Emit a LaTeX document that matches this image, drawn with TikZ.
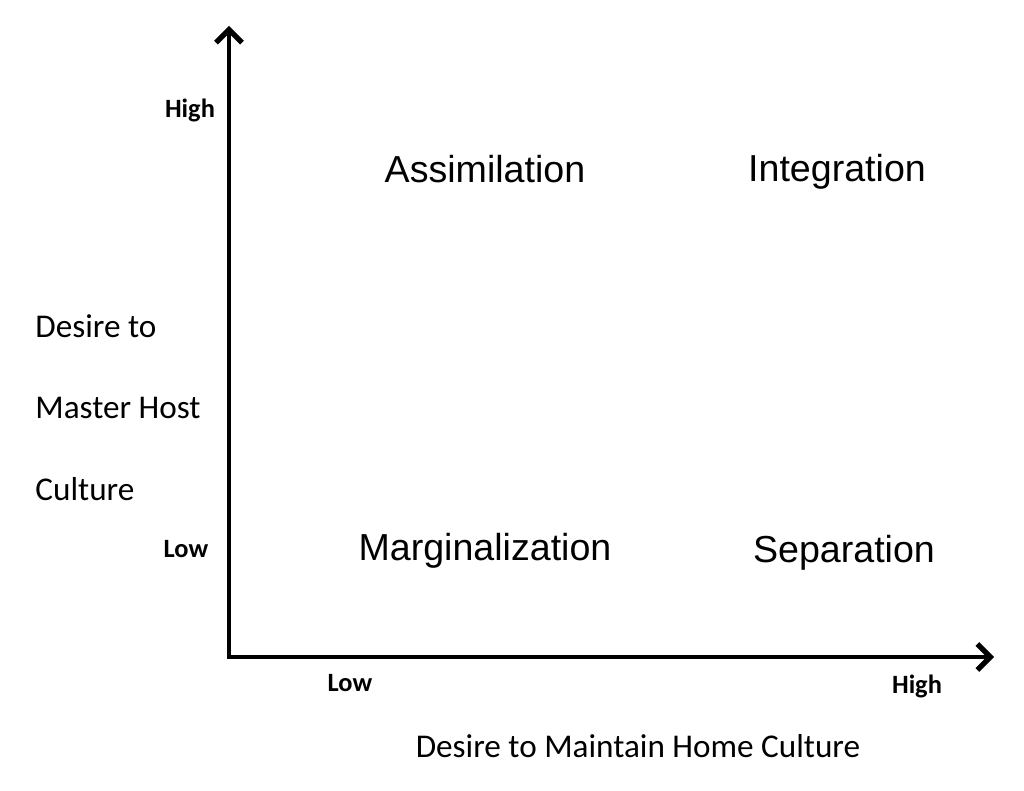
\documentclass[tikz,border=0pt]{standalone}
\usepackage{fontspec}
\setmainfont{Carlito}
\newfontfamily\quadfont{Liberation Sans}
\usetikzlibrary{arrows.meta}
\tikzset{
  axis/.style={line width=2pt,-{Straight Barb[length=6.5pt,width=13pt,line width=2.6pt]}},
  level/.style={font=\fontsize{13.2}{15}\selectfont\bfseries,inner sep=0pt},
  quadrant/.style={font=\quadfont\fontsize{18.8}{22}\selectfont,inner sep=0pt,anchor=base},
  axistitle/.style={font=\fontsize{16.6}{20}\selectfont,inner sep=0pt},
}

\begin{document}
\begin{tikzpicture}[x=0.5pt,y=-0.5pt]
  \useasboundingbox (0,0) rectangle (1024,791);

  % axes
  \coordinate (origin) at (229,657);
  \coordinate (ytip) at (229,26);
  \coordinate (xtip) at (994,657);
  \draw[axis,-] (229,659) -- (origin);
  \draw[axis] (origin) -- (ytip);
  \draw[axis] ([xshift=-1pt]origin) -- (xtip);

  % levels on the axes
  \node[level] (yhigh) at (190,110) {High};
  \node[level] (ylow) at (186,549) {Low};
  \node[level] (xlow) at (350,683) {Low};
  \node[level] (xhigh) at (917,686) {High};

  % the four strategies
  \node[quadrant] (assim) at (485,183) {Assimilation};
  \node[quadrant] (integ) at (837,181.5) {Integration};
  \node[quadrant] (margin) at (485,560) {Marginalization};
  \node[quadrant] (separ) at (844,562) {Separation};

  % axis titles
  \node[axistitle,anchor=west] (ytitle1) at (35,326) {Desire to};
  \node[axistitle,anchor=west] (ytitle2) at (35,408) {Master Host};
  \node[axistitle,anchor=west] (ytitle3) at (35,489) {Culture};
  \node[axistitle] (xtitle) at (638,746) {Desire to Maintain Home Culture};
\end{tikzpicture}
\end{document}
